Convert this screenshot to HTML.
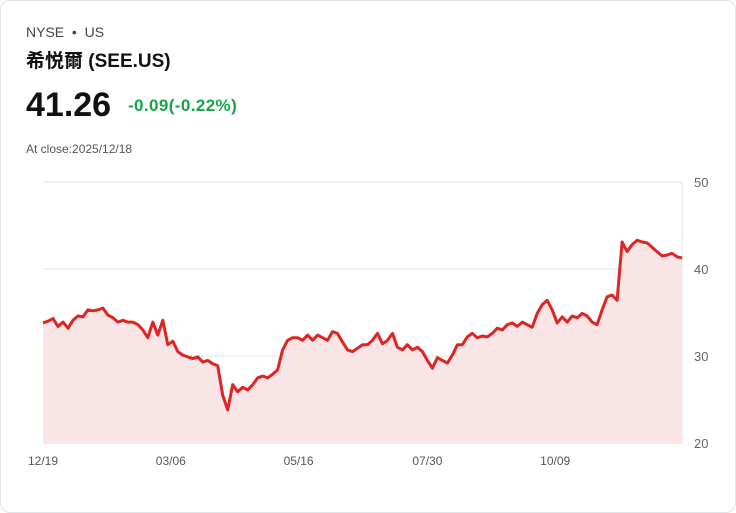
<!DOCTYPE html>
<html><head><meta charset="utf-8"><style>
body{margin:0;background:#fff;font-family:"Liberation Sans","Noto Sans CJK TC",sans-serif;}
.card{position:absolute;left:0;top:0;width:734px;height:511px;border:1px solid #dfe3ea;border-radius:10px;background:#fff;}
.t{position:absolute;white-space:nowrap;}
</style></head><body>
<div class="card">
<div class="t" style="left:25px;top:23px;font-size:14px;color:#444">NYSE &nbsp;•&nbsp; US</div>
<div class="t" style="left:25px;top:45px;font-size:19px;font-weight:bold;color:#111">希悦爾 (SEE.US)</div>
<div class="t" style="left:25px;top:85px;font-size:34px;font-weight:bold;color:#111">41.26</div>
<div class="t" style="left:127px;top:95px;font-size:17px;letter-spacing:0.4px;color:#16a34a;font-weight:bold">-0.09(-0.22%)</div>
<div class="t" style="left:25px;top:141px;font-size:12px;color:#555">At close:2025/12/18</div>
<svg id="chart" width="736" height="513" style="position:absolute;left:-1px;top:-1px"></svg>
</div>
<script>
const values=[33.8,34.0,34.3,33.4,33.9,33.2,34.1,34.6,34.5,35.3,35.2,35.3,35.5,34.7,34.4,33.9,34.1,33.9,33.9,33.6,33.0,32.1,33.9,32.4,34.1,31.3,31.7,30.5,30.1,29.9,29.7,29.9,29.3,29.5,29.1,28.9,25.5,23.8,26.7,25.9,26.4,26.1,26.7,27.5,27.7,27.5,27.9,28.4,30.7,31.8,32.1,32.1,31.8,32.4,31.8,32.4,32.1,31.8,32.8,32.6,31.6,30.7,30.5,30.9,31.3,31.3,31.8,32.6,31.4,31.8,32.6,31.0,30.7,31.3,30.7,31.0,30.5,29.5,28.6,29.8,29.5,29.2,30.1,31.3,31.3,32.2,32.6,32.1,32.3,32.2,32.6,33.2,33.0,33.6,33.8,33.4,33.9,33.6,33.3,34.9,35.9,36.4,35.3,33.8,34.5,33.9,34.6,34.4,34.9,34.6,33.9,33.6,35.3,36.8,37.0,36.4,43.1,42.0,42.8,43.3,43.1,43.0,42.5,42.0,41.5,41.6,41.8,41.4,41.26];
const yTicks=[20,30,40,50];
const xLabels=["12/19","03/06","05/16","07/30","10/09"];
const xLabelIdx=[0,25.6,51.2,77,102.6];
const svg=document.getElementById('chart');const NS='http://www.w3.org/2000/svg';
const X0=43,X1=682,Y0=443,Y1=182,vmin=20,vmax=50;
const xs=i=>X0+i*(X1-X0)/(values.length-1);
const ys=v=>Y0-(v-vmin)*(Y0-Y1)/(vmax-vmin);
function mk(t,a){const e=document.createElementNS(NS,t);for(const k in a)e.setAttribute(k,a[k]);svg.appendChild(e);return e;}
yTicks.forEach(v=>{
 const l=mk('line',{x1:X0,x2:X1,y1:ys(v),y2:ys(v),stroke:'#e2e2e2','stroke-width':1});
 
 
 const t=mk('text',{x:694,y:ys(v)+5,'font-size':13,fill:'#666','font-family':'Liberation Sans,sans-serif'});t.textContent=v;
 
 
});
const ax=mk('line',{x1:X1,x2:X1,y1:Y1,y2:Y0,stroke:'#e2e2e2','stroke-width':1});


let d=values.map((v,i)=>(i?'L':'M')+xs(i).toFixed(1)+','+ys(v).toFixed(1)).join('');
const area=mk('path',{d:d+'L'+X1+','+Y0+'L'+X0+','+Y0+'Z',fill:'#f9e5e6'});


const line=mk('path',{d:d,fill:'none',stroke:'#e02424','stroke-width':3,'stroke-linejoin':'round'});


xLabels.forEach((s,i)=>{
 const t=mk('text',{x:xs(xLabelIdx[i]),y:465,'font-size':12,fill:'#555','text-anchor':'middle','font-family':'Liberation Sans,sans-serif'});t.textContent=s;
 
 
});
</script>
</body></html>
